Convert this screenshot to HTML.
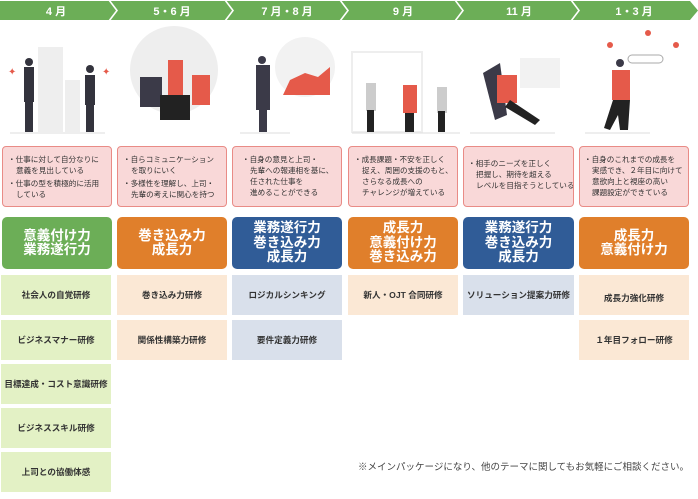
<!DOCTYPE html>
<html><head><meta charset="utf-8"><style>
*{margin:0;padding:0;box-sizing:border-box}
body{width:698px;height:499px;background:#fff;position:relative;overflow:hidden;font-family:"Liberation Sans","Noto Sans CJK JP",sans-serif;}
.a{position:absolute}
.pk{position:absolute;top:146px;height:61px;background:#f9d8d8;border:1.5px solid #e98b86;border-radius:4px;font-size:7.6px;line-height:11px;color:#333;padding:7px 2px 0 5px;white-space:nowrap;overflow:hidden}
.pk p{padding-left:8px;text-indent:-8px;margin-bottom:2px}
.sk{position:absolute;top:217px;height:52px;border-radius:5px;color:#fff;font-size:13.5px;line-height:14.5px;text-align:center;display:flex;align-items:center;justify-content:center;font-weight:bold}
.tr{position:absolute;height:40px;font-size:8.6px;font-weight:bold;color:#333;display:flex;align-items:center;justify-content:center}
.g{background:#e3f1c5}.o{background:#fbe8d5}.b{background:#d9e0eb}
</style></head><body>
<svg class="a" style="left:0;top:0" width="698" height="22">
<polygon points="0,1 690,1 698,10.5 690,20 0,20" fill="#6cae57"/>
<g fill="none" stroke="#fff" stroke-width="1.6">
<polyline points="109,0 117,10.5 109,21"/><polyline points="225,0 233,10.5 225,21"/><polyline points="340,0 348,10.5 340,21"/><polyline points="455,0 463,10.5 455,21"/><polyline points="571,0 579,10.5 571,21"/>
</g>
<g fill="#fff" font-size="11" font-weight="bold" text-anchor="middle" font-family="Liberation Sans,Noto Sans CJK JP,sans-serif">
<text x="56" y="15">4 月</text><text x="172" y="15">5・6 月</text><text x="287" y="15">7 月・8 月</text><text x="403" y="15">9 月</text><text x="519" y="15">11 月</text><text x="634" y="15">1・3 月</text>
</g></svg>
<svg class="a" style="left:0;top:25" width="698" height="115">
<rect x="38" y="22" width="25" height="85" fill="#eee"/><rect x="65" y="55" width="15" height="52" fill="#eee"/>
<rect x="24" y="42" width="10" height="35" fill="#33333d"/><circle cx="29" cy="37" r="4" fill="#33333d"/><rect x="25" y="77" width="8" height="30" fill="#33333d"/>
<rect x="85" y="50" width="10" height="30" fill="#33333d"/><circle cx="90" cy="44" r="4" fill="#33333d"/><rect x="86" y="80" width="8" height="27" fill="#33333d"/>
<text x="8" y="50" fill="#e55a4a" font-size="10">✦</text><text x="102" y="50" fill="#e55a4a" font-size="10">✦</text>
<circle cx="174" cy="45" r="44" fill="#eee"/><rect x="140" y="52" width="22" height="30" fill="#3b3a48"/><rect x="168" y="35" width="15" height="35" fill="#e55a4a"/><rect x="192" y="50" width="18" height="30" fill="#e55a4a"/><rect x="160" y="70" width="30" height="25" fill="#222"/>
<circle cx="305" cy="42" r="30" fill="#f2f2f2"/><path d="M283,70 L290,55 L305,48 L318,52 L330,42 L330,70 Z" fill="#e55a4a"/>
<rect x="256" y="40" width="14" height="45" fill="#3b3a48"/><circle cx="262" cy="35" r="4" fill="#3b3a48"/><rect x="259" y="85" width="8" height="22" fill="#3b3a48"/>
<rect x="352" y="27" width="70" height="80" fill="none" stroke="#eee" stroke-width="2"/>
<rect x="366" y="58" width="10" height="28" fill="#ccc"/><rect x="403" y="60" width="14" height="28" fill="#e55a4a"/><rect x="437" y="62" width="10" height="26" fill="#ccc"/>
<rect x="367" y="85" width="7" height="22" fill="#222"/><rect x="405" y="88" width="9" height="19" fill="#222"/><rect x="438" y="86" width="7" height="21" fill="#222"/>
<rect x="520" y="33" width="40" height="30" fill="#f2f2f2"/><path d="M483,48 L500,38 L507,90 L495,95 Z" fill="#3b3a48"/><rect x="497" y="50" width="20" height="28" fill="#e55a4a"/><path d="M510,75 L540,95 L535,100 L505,82Z" fill="#222"/>
<rect x="628" y="30" width="35" height="8" rx="4" fill="none" stroke="#aaa"/><circle cx="610" cy="20" r="3" fill="#e55a4a"/><circle cx="648" cy="8" r="3" fill="#e55a4a"/><circle cx="676" cy="20" r="3" fill="#e55a4a"/>
<rect x="612" y="45" width="18" height="30" fill="#e55a4a"/><circle cx="620" cy="38" r="4" fill="#3b3a48"/><path d="M613,75 L630,75 L628,105 L620,105 L618,90 L610,105 L604,103Z" fill="#222"/>
<line x1="10" y1="108" x2="105" y2="108" stroke="#ddd"/><line x1="240" y1="108" x2="290" y2="108" stroke="#ddd"/><line x1="352" y1="108" x2="460" y2="108" stroke="#ddd"/><line x1="470" y1="108" x2="555" y2="108" stroke="#ddd"/><line x1="585" y1="108" x2="650" y2="108" stroke="#ddd"/>
</svg>

<div class="pk" style="left:2px;width:110px"><p>・仕事に対して自分なりに<br>意義を見出している</p><p>・仕事の型を積極的に活用<br>している</p></div>
<div class="pk" style="left:117px;width:110px"><p>・自らコミュニケーション<br>を取りにいく</p><p>・多様性を理解し、上司・<br>先輩の考えに関心を持つ</p></div>
<div class="pk" style="left:232px;width:110px;padding-left:9px"><p>・自身の意見と上司・<br>先輩への報連相を基に、<br>任された仕事を<br>進めることができる</p></div>
<div class="pk" style="left:348px;width:110px"><p>・成長課題・不安を正しく<br>捉え、周囲の支援のもと、<br>さらなる成長への<br>チャレンジが増えている</p></div>
<div class="pk" style="left:463px;width:111px;padding-top:11px;padding-left:4px"><p>・相手のニーズを正しく<br>把握し、期待を超える<br>レベルを目指そうとしている</p></div>
<div class="pk" style="left:579px;width:110px;padding-left:4px"><p>・自身のこれまでの成長を<br>実感でき、２年目に向けて<br>意欲向上と視座の高い<br>課題設定ができている</p></div>

<div class="sk" style="left:2px;width:110px;background:#6cae57">意義付け力<br>業務遂行力</div>
<div class="sk" style="left:117px;width:110px;background:#e07f2b">巻き込み力<br>成長力</div>
<div class="sk" style="left:232px;width:110px;background:#305c97">業務遂行力<br>巻き込み力<br>成長力</div>
<div class="sk" style="left:348px;width:110px;background:#e07f2b">成長力<br>意義付け力<br>巻き込み力</div>
<div class="sk" style="left:463px;width:111px;background:#305c97">業務遂行力<br>巻き込み力<br>成長力</div>
<div class="sk" style="left:579px;width:110px;background:#e07f2b">成長力<br>意義付け力</div>

<div class="tr g" style="left:1px;top:275px;width:110px">社会人の自覚研修</div>
<div class="tr g" style="left:1px;top:320px;width:110px">ビジネスマナー研修</div>
<div class="tr g" style="left:1px;top:364px;width:110px">目標達成・コスト意識研修</div>
<div class="tr g" style="left:1px;top:408px;width:110px">ビジネススキル研修</div>
<div class="tr g" style="left:1px;top:452px;width:110px">上司との協働体感</div>
<div class="tr o" style="left:117px;top:275px;width:110px">巻き込み力研修</div>
<div class="tr o" style="left:117px;top:320px;width:110px">関係性構築力研修</div>
<div class="tr b" style="left:232px;top:275px;width:110px">ロジカルシンキング</div>
<div class="tr b" style="left:232px;top:320px;width:110px">要件定義力研修</div>
<div class="tr o" style="left:348px;top:275px;width:110px">新人・OJT 合同研修</div>
<div class="tr b" style="left:463px;top:275px;width:111px">ソリューション提案力研修</div>
<div class="tr o" style="left:579px;top:275px;width:110px;padding-top:6px">成長力強化研修</div>
<div class="tr o" style="left:579px;top:320px;width:110px">１年目フォロー研修</div>

<div class="a" style="right:9px;top:459px;font-size:9.5px;color:#444;white-space:nowrap">※メインパッケージになり、他のテーマに関してもお気軽にご相談ください。</div>
</body></html>
